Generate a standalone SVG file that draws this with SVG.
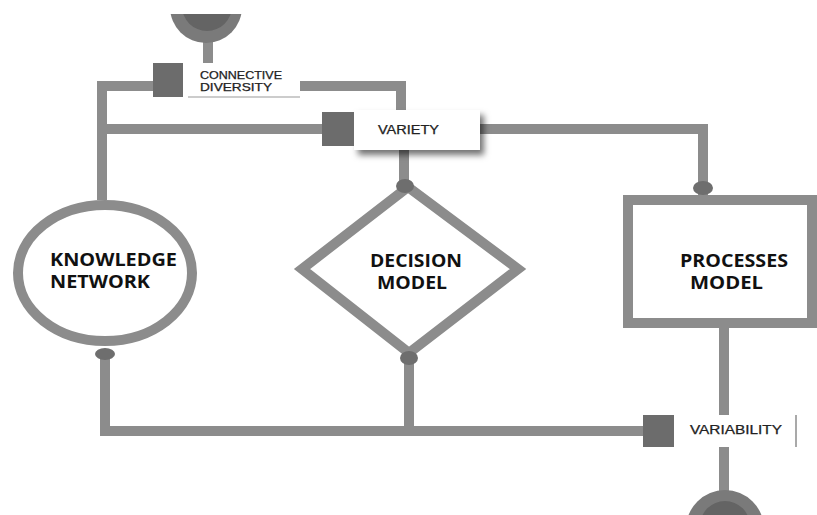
<svg xmlns="http://www.w3.org/2000/svg" width="817" height="515" viewBox="0 0 817 515">
<defs>
<style>
.ln{fill:none;stroke:#8c8c8c;stroke-width:10;stroke-linejoin:miter}
.sq{fill:#6c6c6c}
.dot{fill:#6e6e6e}
.big{font-family:"Open Sans","Liberation Sans",sans-serif;font-weight:bold;font-size:17px;fill:#111}
.sm{font-family:"Liberation Sans","Open Sans",sans-serif;font-size:10.5px;fill:#222;stroke:#222;stroke-width:0.25}
.md{font-family:"Liberation Sans","Open Sans",sans-serif;font-size:12px;fill:#222;stroke:#222;stroke-width:0.25}
</style>
<filter id="sh" x="-20%" y="-30%" width="150%" height="180%">
<feDropShadow dx="4" dy="5" stdDeviation="3" flood-color="#000" flood-opacity="0.55"/>
</filter>
<clipPath id="clipAll"><rect x="0" y="14" width="817" height="501"/></clipPath>
</defs>
<rect width="817" height="515" fill="#fff"/>
<g id="connectors">
<path class="ln" d="M208 30 V66"/>
<path class="ln" d="M155 86 H102 V200"/>
<path class="ln" d="M102 129 H324"/>
<path class="ln" d="M298 86 H401 V112"/>
<path class="ln" d="M404 148 V187"/>
<path class="ln" d="M478 129 H703 V195"/>
<path class="ln" d="M105 350 V431 H645"/>
<path class="ln" d="M409 355 V431"/>
<path class="ln" d="M724 328 V415"/>
<path class="ln" d="M724 447 V495"/>
</g>
<g id="top-terminal" clip-path="url(#clipAll)">
<circle cx="206" cy="7" r="36" fill="#7a7a7a"/>
<circle cx="207" cy="6" r="25" fill="#646464"/>
</g>
<g id="bottom-terminal">
<circle cx="725" cy="529" r="39" fill="#7a7a7a"/>
<circle cx="725" cy="526" r="25" fill="#646464"/>
</g>
<g id="connective-diversity">
<rect class="sq" x="153" y="63" width="30" height="34"/>
<rect x="183" y="63" width="117" height="34" fill="#fff"/>
<line x1="188" y1="97" x2="300" y2="97" stroke="#9a9a9a" stroke-width="1.2"/>
<text class="sm" x="200" y="79" textLength="82" lengthAdjust="spacingAndGlyphs">CONNECTIVE</text>
<text class="sm" x="200" y="91" textLength="72" lengthAdjust="spacingAndGlyphs">DIVERSITY</text>
</g>
<g id="variety">
<rect x="354" y="110" width="126" height="40" fill="#fff" filter="url(#sh)"/>
<rect class="sq" x="322" y="112" width="32" height="34"/>
<text class="md" x="378" y="134" textLength="61" lengthAdjust="spacingAndGlyphs">VARIETY</text>
</g>
<g id="knowledge-network">
<ellipse cx="105" cy="273" rx="87" ry="68" fill="#fff" stroke="#8c8c8c" stroke-width="10"/>
<ellipse class="dot" cx="105" cy="354" rx="10" ry="6"/>
<text class="big" x="50" y="266" textLength="127" lengthAdjust="spacingAndGlyphs">KNOWLEDGE</text>
<text class="big" x="50" y="288" textLength="100" lengthAdjust="spacingAndGlyphs">NETWORK</text>
</g>
<g id="decision-model">
<polygon points="408,187 518,269 409,353 302,269" fill="#fff" stroke="#8c8c8c" stroke-width="10"/>
<ellipse class="dot" cx="405" cy="186" rx="9" ry="7"/>
<ellipse class="dot" cx="409" cy="358" rx="9" ry="7"/>
<text class="big" x="370" y="267" textLength="92" lengthAdjust="spacingAndGlyphs">DECISION</text>
<text class="big" x="377" y="289" textLength="70" lengthAdjust="spacingAndGlyphs">MODEL</text>
</g>
<g id="processes-model">
<rect x="628" y="200" width="184" height="123" fill="#fff" stroke="#8c8c8c" stroke-width="10"/>
<ellipse class="dot" cx="703" cy="188" rx="10" ry="7"/>
<text class="big" x="680" y="267" textLength="108" lengthAdjust="spacingAndGlyphs">PROCESSES</text>
<text class="big" x="690" y="289" textLength="73" lengthAdjust="spacingAndGlyphs">MODEL</text>
</g>
<g id="variability">
<rect class="sq" x="643" y="415" width="31" height="32"/>
<rect x="674" y="415" width="120" height="32" fill="#fff"/>
<line x1="796" y1="415" x2="796" y2="447" stroke="#8c8c8c" stroke-width="1.5"/>
<text class="md" x="690" y="434" textLength="92" lengthAdjust="spacingAndGlyphs">VARIABILITY</text>
</g>
</svg>
